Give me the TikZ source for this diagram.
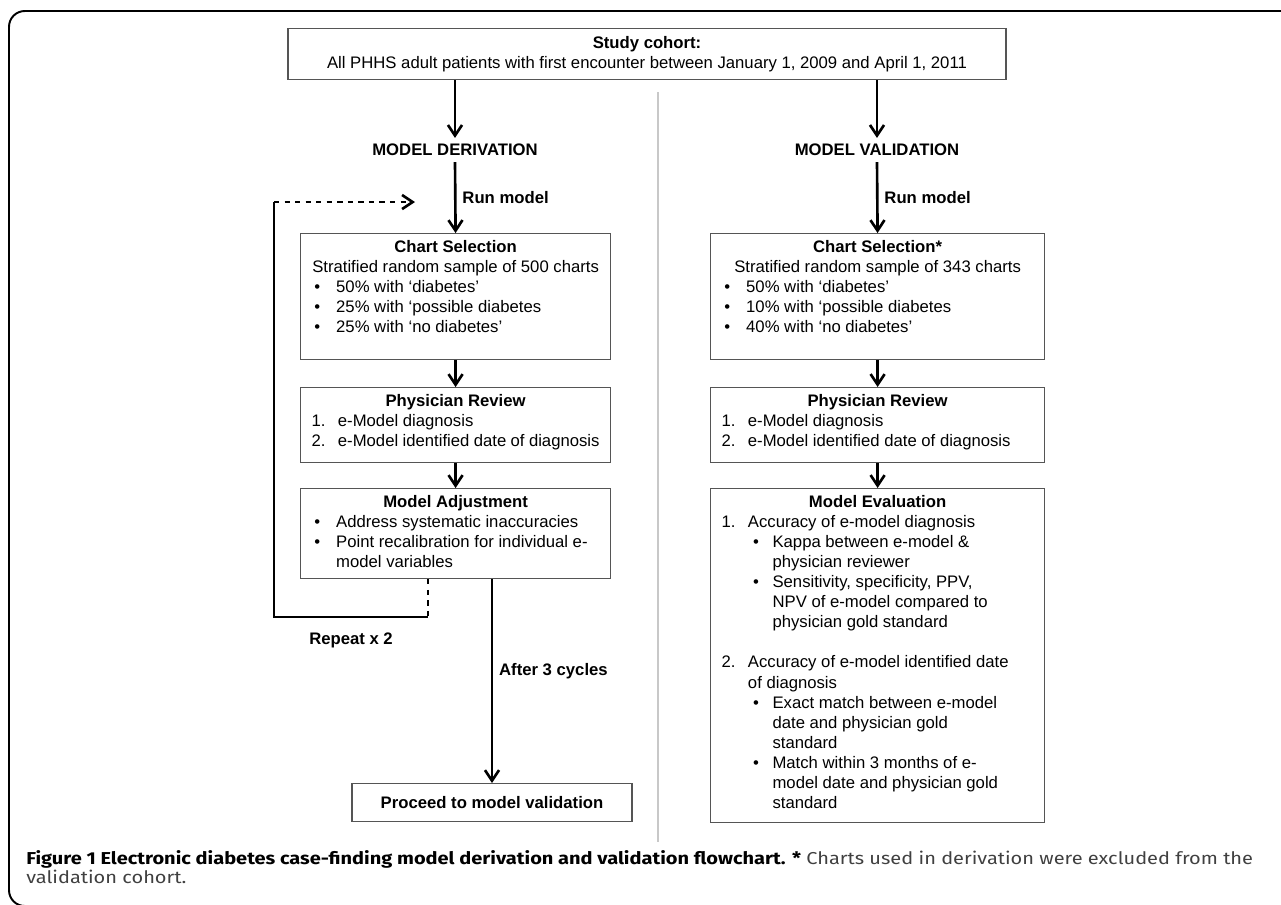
\documentclass[tikz,border=0pt]{standalone}
\usepackage{fontspec}
\setmainfont{Liberation Sans}
\newfontfamily\capfont{Fira Sans}
\usetikzlibrary{arrows.meta}

\definecolor{boxgray}{HTML}{555555}
\definecolor{divgray}{HTML}{C8C8C8}
\definecolor{capgray}{HTML}{404040}

% list lines inside the boxes
\newcommand{\li}[3]{\par\hangindent=#2\relax\hangafter=1\noindent\makebox[#2][l]{\hspace*{#1}#3}\ignorespaces}
\newcommand{\bulitem}{\li{1.5pt}{14pt}{\textbullet}}
\newcommand{\numitem}[1]{\li{0pt}{15pt}{#1.}}
\newcommand{\subbul}{\li{18pt}{29pt}{\textbullet}}
\newcommand{\boxbody}[3]{\parbox[c][#2][t]{#1}{\raggedright\vspace*{4pt}#3}}

\begin{document}
\begin{tikzpicture}[x=0.02cm, y=-0.02cm]
        % styles
        \tikzstyle{stepbox}=[draw=boxgray, line width=0.7pt, fill=white, inner xsep=0.22cm, inner ysep=0pt, anchor=north west, font=\fontsize{9.5}{11.4}\selectfont]
        \tikzstyle{head}=[font=\fontsize{9.5}{11.4}\selectfont\bfseries]
        \tikzstyle{lbl}=[font=\fontsize{9.5}{11.4}\selectfont\bfseries]
        \tikzstyle{flow}=[->, >={Straight Barb[length=6pt, width=8pt]}, line width=1.5pt]
        \tikzstyle{backline}=[line width=1.5pt, >={Straight Barb[length=6pt, width=8pt]}]
        \tikzstyle{divider}=[divgray, line width=0.6pt]

        \useasboundingbox (0,0) rectangle (1281,904);

        % frame
        \draw[line width=1.1pt, rounded corners=9] (24,906) -- (9,906) -- (9,11) -- (1290,11);

        % study cohort
        \node[stepbox, anchor=north, minimum width=14.36cm, minimum height=1.02cm, align=center] (study) at (647,28)
            {\bfseries Study cohort:\\ All PHHS adult patients with first encounter between January 1, 2009 and April 1, 2011};

        % column heads
        \node[head] (derivL) at (455,150) {MODEL DERIVATION};
        \node[head] (valR) at (877,150) {MODEL VALIDATION};

        % derivation boxes
        \node[stepbox] (chartL) at (300,233) {\boxbody{5.76cm}{2.52cm}{%
            {\centering\bfseries Chart Selection\par}
            {\centering Stratified random sample of 500 charts\par}
            \bulitem 50\% with ‘diabetes’
            \bulitem 25\% with ‘possible diabetes
            \bulitem 25\% with ‘no diabetes’\par}};
        \node[stepbox] (physL) at (300,387) {\boxbody{5.76cm}{1.5cm}{%
            {\centering\bfseries Physician Review\par}
            \numitem{1}e-Model diagnosis
            \numitem{2}e-Model identified date of diagnosis\par}};
        \node[stepbox] (adjL) at (300,488) {\boxbody{5.76cm}{1.8cm}{%
            {\centering\bfseries Model Adjustment\par}
            \bulitem Address systematic inaccuracies
            \bulitem Point recalibration for individual e-\newline model variables\par}};
        \node[stepbox, anchor=north, minimum width=5.6cm, minimum height=0.76cm, font=\fontsize{9.5}{11.4}\selectfont\bfseries] (proceed) at (492,783) {Proceed to model validation};

        % validation boxes
        \node[stepbox] (chartR) at (710,233) {\boxbody{6.24cm}{2.52cm}{%
            {\centering\bfseries Chart Selection*\par}
            {\centering Stratified random sample of 343 charts\par}
            \bulitem 50\% with ‘diabetes’
            \bulitem 10\% with ‘possible diabetes
            \bulitem 40\% with ‘no diabetes’\par}};
        \node[stepbox] (physR) at (710,387) {\boxbody{6.24cm}{1.5cm}{%
            {\centering\bfseries Physician Review\par}
            \numitem{1}e-Model diagnosis
            \numitem{2}e-Model identified date of diagnosis\par}};
        \node[stepbox] (evalR) at (710,488) {\boxbody{6.24cm}{6.68cm}{%
            {\centering\bfseries Model Evaluation\par}
            \numitem{1}Accuracy of e-model diagnosis
            \subbul Kappa between e-model \&\newline physician reviewer
            \subbul Sensitivity, specificity, PPV,\newline NPV of e-model compared to\newline physician gold standard
            \par\vspace{11.4pt}
            \numitem{2}Accuracy of e-model identified date\newline of diagnosis
            \subbul Exact match between e-model\newline date and physician gold\newline standard
            \subbul Match within 3 months of e-\newline model date and physician gold\newline standard\par}};

        % divider
        \draw[divider] (658,92) -- (658,842);

        % arrows
        \draw[flow] (study.south -| derivL) -- (derivL.north);
        \draw[flow] (study.south -| valR) -- (valR.north);
        \draw[flow] (derivL.south) -- (chartL.north) node[midway, right, lbl] {Run model};
        \draw[flow] (valR.south) -- (chartR.north) node[midway, right, lbl] {Run model};
        \draw[flow] (chartL) -- (physL);
        \draw[flow] (physL) -- (adjL);
        \draw[flow] (chartR) -- (physR);
        \draw[flow] (physR) -- (evalR);
        \draw[flow] (adjL.south -| proceed.north) -- (proceed.north) node[pos=0.45, right, lbl] {After 3 cycles};

        % repeat loop
        \coordinate (loopA) at (428,617);
        \coordinate (loopB) at (274,617);
        \coordinate (loopC) at (274,202);
        \coordinate (loopD) at (415,202);
        \draw[backline, dashed] (adjL.south -| loopA) -- (loopA);
        \draw[backline] (loopA) -- (loopB) -- (loopC);
        \draw[backline, dashed, ->] (loopC) -- (loopD);
        \node[lbl] (repeat) at (351,640) {Repeat x 2};

        % caption
        \node[anchor=base west, inner sep=0pt, font=\capfont\fontsize{9.8}{10.8}\selectfont] (cap) at (26,864)
            {\resizebox{24.54cm}{\height}{\begin{tabular}[t]{@{}l@{}}{\bfseries Figure 1 Electronic diabetes case-finding model derivation and validation flowchart. *} {\color{capgray}Charts used in derivation were excluded from the}\\ {\color{capgray}validation cohort.}\end{tabular}}};
    \end{tikzpicture}
\end{document}
